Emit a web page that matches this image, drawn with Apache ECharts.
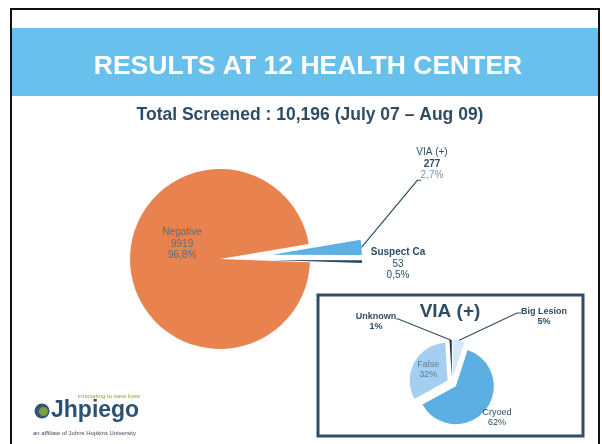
<!DOCTYPE html>
<html><head><meta charset="utf-8">
<script src="https://cdn.jsdelivr.net/npm/echarts@6/dist/echarts.min.js"></script>
<style>html,body{margin:0;padding:0;background:#fff}#c{width:602px;height:444px}</style>
</head><body><div id="c"></div>
<script>
// ---- data ----
const slideTitle = 'RESULTS AT 12 HEALTH CENTER';
const subTitle = 'Total Screened : 10,196 (July 07 – Aug 09)';
const screenCategories = ['Negative', 'VIA (+)', 'Suspect Ca'];
const screenCounts = [9919, 277, 53];
const viaTitle = 'VIA (+)';
const viaCategories = ['Big Lesion', 'Cryoed', 'False', 'Unknown'];
const viaPercents = [5, 62, 32, 1];
const logoTagline = 'innovating to save lives';
const logoName = 'Jhpiego';
const logoAffiliate = 'an affiliate of Johns Hopkins University';

// ---- styles ----
const mainColors = ['#e8834f', '#5eb0e2', '#2b4a63'];
const viaColors = ['#d3e8f8', '#5bafe3', '#a5cff0', '#263b4c'];
const slate = '#2e4d64';
const FONT = '"Liberation Sans", Arial, sans-serif';

const MAIN_START = -2, MAIN_OFFSET = 52;
const VIA_START = 90, VIA_OFFSET = 5;

const chart = echarts.init(document.getElementById('c'), null, {renderer: 'canvas'});

function pct(p) { return p.percent.toFixed(1).replace('.', ','); }

// selected-offset vector of every slice (same rule ECharts uses: along mid-angle)
function sliceOffsets(values, startAngle, dist) {
  const total = values.reduce((a, b) => a + b, 0);
  let a = startAngle;
  return values.map(v => {
    const span = v / total * 360;
    const mid = (a - span / 2) * Math.PI / 180;
    a -= span;
    return [dist * Math.cos(mid), -dist * Math.sin(mid)];
  });
}
const mainOff = sliceOffsets(screenCounts, MAIN_START, MAIN_OFFSET);
const viaOff = sliceOffsets(viaPercents, VIA_START, VIA_OFFSET);

function placeLabel(p, target, off) {
  const r = p.labelRect;
  const anchorX = p.align === 'left' ? r.x : (p.align === 'right' ? r.x + r.width : r.x + r.width / 2);
  const cy = r.y + r.height / 2;
  return {dx: target[0] - off[0] - anchorX, dy: target[1] - off[1] - cy, align: 'center'};
}

const mainData = screenCategories.map((n, i) => ({
  name: n, value: screenCounts[i], selected: i > 0,
  itemStyle: {color: mainColors[i]},
  label: i === 0 ? {position: 'inside'} : {position: 'outside'},
  labelLine: {show: i === 1}
}));

const viaData = viaCategories.map((n, i) => ({
  name: n, value: viaPercents[i], selected: true,
  itemStyle: {color: viaColors[i]},
  label: n === 'False' ? {position: 'inside', color: '#62788d', fontWeight: 'normal'}
        : (n === 'Cryoed' ? {position: 'outside', fontWeight: 'normal'} : {position: 'outside'}),
  labelLine: {show: n === 'Big Lesion' || n === 'Unknown'}
}));

const mainLabelPos = {1: [432, 164], 2: [398, 264]};
const viaLabelPos = {0: [544, 317], 1: [497, 418], 3: [376, 322]};

const option = {
  animation: false,
  backgroundColor: '#ffffff',
  graphic: [
    {type: 'rect', shape: {x: 11, y: 9, width: 588, height: 460}, style: {fill: '#fff', stroke: '#111', lineWidth: 2}, z: -10},
    {type: 'rect', shape: {x: 12, y: 28, width: 586, height: 68}, style: {fill: '#68c0ec'}, z: -9},
    {type: 'rect', shape: {x: 318, y: 295, width: 265, height: 141}, style: {fill: '#fff', stroke: slate, lineWidth: 3}, z: -5},
    // logo
    {type: 'text', style: {text: logoTagline, x: 140, y: 396, align: 'right', verticalAlign: 'middle', fill: '#8aa540', font: '6px ' + FONT}},
    {type: 'circle', shape: {cx: 42, cy: 411, r: 7.5}, style: {fill: '#2f5672'}},
    {type: 'circle', shape: {cx: 43.5, cy: 411.5, r: 4.5}, style: {fill: '#7f9e3c'}},
    {type: 'text', style: {text: logoName, x: 51, y: 411, align: 'left', verticalAlign: 'middle', fill: '#2b5273', font: 'bold 23px ' + FONT}},
    {type: 'text', style: {text: logoAffiliate, x: 33, y: 433, align: 'left', verticalAlign: 'middle', fill: '#3a4a5a', font: '6px ' + FONT}}
  ],
  title: [
    {text: slideTitle, left: 303, top: 62, textAlign: 'center', textVerticalAlign: 'middle',
     textStyle: {color: '#fff', fontSize: 26.5, fontWeight: 'bold', fontFamily: FONT}},
    {text: subTitle, left: 305, top: 110, textAlign: 'center', textVerticalAlign: 'middle',
     textStyle: {color: slate, fontSize: 17.5, fontWeight: 'bold', fontFamily: FONT}},
    {text: viaTitle, left: 445, top: 307, textAlign: 'center', textVerticalAlign: 'middle',
     textStyle: {color: slate, fontSize: 19, fontWeight: 'bold', fontFamily: FONT}}
  ],
  series: [
    {
      type: 'pie', center: [220, 259], radius: 90, startAngle: MAIN_START, clockwise: true,
      selectedMode: 'multiple', selectedOffset: MAIN_OFFSET, silent: true, avoidLabelOverlap: false,
      percentPrecision: 1, emphasis: {disabled: true},
      data: mainData,
      label: {
        fontFamily: FONT, fontSize: 10, lineHeight: 11.5, color: slate,
        formatter: p => {
          if (p.dataIndex === 0) return `{n|${p.name}}\n{n|${p.value}}\n{n|${pct(p)}%}`;
          if (p.dataIndex === 1) return `{a|${p.name}}\n{b|${p.value}}\n{c|${pct(p)}%}`;
          return `{b|${p.name}}\n{a|${p.value}}\n{a|${pct(p)}%}`;
        },
        rich: {
          n: {color: '#566d84', fontSize: 10, lineHeight: 11.5, fontFamily: FONT},
          a: {color: slate, fontSize: 10, lineHeight: 11.5, fontFamily: FONT},
          b: {color: slate, fontSize: 10, lineHeight: 11.5, fontWeight: 'bold', fontFamily: FONT},
          c: {color: '#8496a8', fontSize: 10, lineHeight: 11.5, fontFamily: FONT}
        }
      },
      labelLine: {lineStyle: {color: slate, width: 1.2}, length: 10, length2: 10},
      labelLayout: function (p) {
        if (p.dataIndex === 0) return {dx: 10, dy: -18};
        const pos = mainLabelPos[p.dataIndex];
        const off = mainOff[p.dataIndex];
        const res = placeLabel(p, pos, off);
        if (p.dataIndex === 1 && p.labelLinePoints) {
          const w = p.labelRect.width, h = p.labelRect.height;
          const left = pos[0] - w / 2, bottom = pos[1] + h / 2 - 1;
          res.labelLinePoints = [p.labelLinePoints[0],
            [left + 1 - off[0], bottom - off[1]], [left + 5 - off[0], bottom - off[1]]];
        }
        return res;
      }
    },
    {
      type: 'pie', center: [452, 383], radius: 38, startAngle: VIA_START, clockwise: true,
      selectedMode: 'multiple', selectedOffset: VIA_OFFSET, silent: true, avoidLabelOverlap: false,
      emphasis: {disabled: true},
      data: viaData,
      label: {
        fontFamily: FONT, fontSize: 9, lineHeight: 10, color: slate,
        formatter: p => `${p.name}\n${p.value}%`,
        fontWeight: 'bold'
      },
      labelLine: {lineStyle: {color: slate, width: 1.2}, length: 10, length2: 10},
      labelLayout: function (p) {
        const name = viaCategories[p.dataIndex];
        if (name === 'False') return {};
        const pos = viaLabelPos[p.dataIndex];
        const off = viaOff[p.dataIndex];
        const res = placeLabel(p, pos, off);
        const w = p.labelRect.width, h = p.labelRect.height;
        const top = pos[1] - h / 2;
        if (name === 'Big Lesion' && p.labelLinePoints) {
          const left = pos[0] - w / 2;
          res.labelLinePoints = [p.labelLinePoints[0],
            [left - 4 - off[0], top + 6 - off[1]], [left - off[0], top + 6 - off[1]]];
        }
        if (name === 'Unknown' && p.labelLinePoints) {
          const right = pos[0] + w / 2;
          res.labelLinePoints = [p.labelLinePoints[0],
            [right + 2 - off[0], top + 7 - off[1]], [right - off[0], top + 7 - off[1]]];
        }
        return res;
      }
    }
  ]
};
chart.setOption(option);
</script>
</body></html>
